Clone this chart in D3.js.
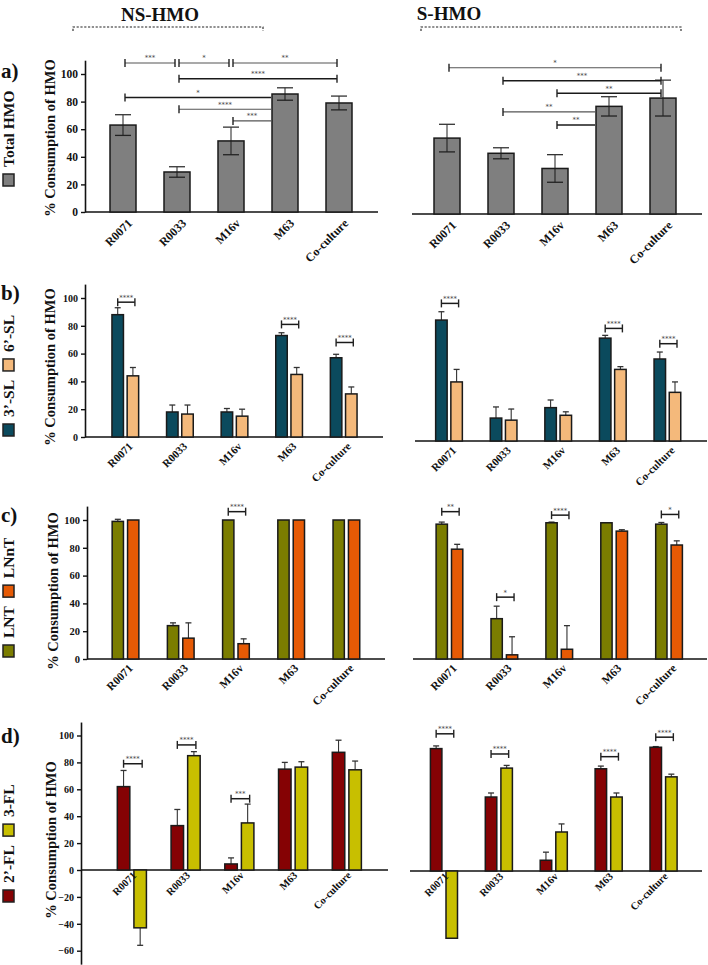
<!DOCTYPE html>
<html><head><meta charset="utf-8">
<script src="https://cdn.jsdelivr.net/npm/d3@7"></script>
<style>
body{margin:0;background:#fff}
svg{display:block}
text{font-family:"Liberation Serif","Times New Roman",serif;font-weight:bold;fill:#111}
</style>
</head><body>
<svg id="chart" width="708" height="965"></svg>
<script>
// ---------------- DATA ----------------
const categories = ["R0071", "R0033", "M16v", "M63", "Co-culture"];
const yTicksPos = [0, 20, 40, 60, 80, 100];
const yTicksD = [-60, -40, -20, 0, 20, 40, 60, 80, 100];

// a) Total HMO
const totalNS = [63, 29, 51.5, 85.5, 79];
const totalNSErr = [7.5, 3.8, 10, 4.5, 5];
const totalS = [55, 44, 33, 78, 84];
const totalSErr = [10, 4, 10, 7, 13];

// b) 3'-SL / 6'-SL
const sl3NS = [88, 18, 18, 73, 57];
const sl3NSErr = [5, 5, 2.5, 2, 2.5];
const sl6NS = [44, 16.5, 15, 45, 31];
const sl6NSErr = [6, 6.5, 5, 5, 5];
const sl3S = [87, 16.5, 24, 74, 59];
const sl3SErr = [6, 8, 5.5, 2, 5];
const sl6S = [42.5, 15, 18.5, 51.5, 35];
const sl6SErr = [9, 8, 2.5, 2, 7.5];

// c) LNT / LNnT
const lntNS = [99, 24, 100, 100, 100];
const lntNSErr = [1.5, 2, 0, 0, 0];
const lnntNS = [100, 15, 11, 100, 100];
const lnntNSErr = [0, 11, 3.5, 0, 0];
const lntS = [97, 29, 98, 98, 97];
const lntSErr = [1.5, 9, 0.5, 0, 1.2];
const lnntS = [79, 3, 7, 92, 82];
const lnntSErr = [3.5, 13, 17, 1, 3];

// d) 2'-FL / 3-FL
const fl2NS = [62, 33, 4.5, 75, 87.5];
const fl2NSErr = [12, 12, 4.5, 5, 9];
const fl3NS = [-43, 85, 35, 76.5, 74.5];
const fl3NSErr = [-13, 3, 14, 4, 6.5];
const fl2S = [91, 55, 8, 76, 92];
const fl2SErr = [2, 3, 6, 2, 0.5];
const fl3S = [-50, 76.5, 29, 55, 70];
const fl3SErr = [3.5, 2, 6, 3, 2];

// significance brackets (y in % units)
const sigA_NS = [
  {from: "R0071", to: "R0033", y: 108, label: "***"},
  {from: "R0033", to: "M16v", y: 108, label: "*"},
  {from: "M16v", to: "Co-culture", y: 108, label: "**"},
  {from: "R0033", to: "Co-culture", y: 96.5, label: "****", dark: true},
  {from: "R0071", to: "M63", y: 83, label: "*", open: true, dark: true},
  {from: "R0033", to: "M63", y: 74.5, label: "****", open: true},
  {from: "M16v", to: "M63", y: 66, label: "***", open: true}
];
const sigA_S = [
  {from: "R0071", to: "Co-culture", y: 106, label: "*"},
  {from: "R0033", to: "Co-culture", y: 96.5, label: "***", dark: true},
  {from: "M16v", to: "Co-culture", y: 87.5, label: "**", dark: true},
  {from: "R0033", to: "M63", y: 74, label: "**", open: true},
  {from: "M16v", to: "M63", y: 64.5, label: "**", open: true, dark: true}
];
const sigB_NS = [
  {cat: "R0071", y: 97, label: "****"},
  {cat: "M63", y: 81, label: "****"},
  {cat: "Co-culture", y: 68, label: "****"}
];
const sigB_S = [
  {cat: "R0071", y: 99, label: "****"},
  {cat: "M63", y: 81, label: "****"},
  {cat: "Co-culture", y: 70, label: "****"}
];
const sigC_NS = [
  {cat: "M16v", y: 106, label: "****"}
];
const sigC_S = [
  {cat: "R0071", y: 106, label: "**"},
  {cat: "R0033", y: 44.5, label: "*"},
  {cat: "M16v", y: 103.5, label: "****"},
  {cat: "Co-culture", y: 104, label: "*"}
];
const sigD_NS = [
  {cat: "R0071", y: 79, label: "****"},
  {cat: "R0033", y: 93, label: "****"},
  {cat: "M16v", y: 53, label: "***"}
];
const sigD_S = [
  {cat: "R0071", y: 102, label: "****"},
  {cat: "R0033", y: 87, label: "****"},
  {cat: "M63", y: 85, label: "****"},
  {cat: "Co-culture", y: 99.5, label: "****"}
];

const colors = {
  total: "#7f7f7f",
  sl3: "#0b4a5d", sl6: "#f4b97b",
  lnt: "#7b7d00", lnnt: "#e65a05",
  fl2: "#850204", fl3: "#c8bf00"
};

// ---------------- DRAWING ----------------
const svg = d3.select("#chart");

function panel(o) {
  const g = svg.append("g");
  const y = d3.scaleLinear()
    .domain([o.yMin, o.yMax])
    .range([o.base - o.yMin * o.k, o.base - o.yMax * o.k]);
  const x = d3.scaleBand().domain(categories).range(o.xRange);
  const cx = c => x(c) + x.bandwidth() / 2;
  const nS = o.series.length;

  g.append("line").attr("x1", o.axisLine[0]).attr("x2", o.axisLine[1])
    .attr("y1", y(0)).attr("y2", y(0)).attr("stroke", "#111").attr("stroke-width", 1.6);

  if (o.yAxisX != null) {
    const ax = g.append("g").attr("transform", `translate(${o.yAxisX},0)`)
      .call(d3.axisLeft(y).tickValues(o.ticks).tickSize(4).tickSizeOuter(0).tickPadding(3).tickFormat(d3.format("d")));
    ax.select(".domain").attr("stroke", "#111").attr("stroke-width", 1.6);
    ax.selectAll(".tick line").attr("stroke", "#111").attr("stroke-width", 1.4);
    ax.selectAll(".tick text").attr("font-size", o.tickFont).attr("fill", "#111").style("font-size", o.tickFont + "px");
    g.append("text").attr("transform", `translate(${o.titleX},${o.titleY}) rotate(-90)`)
      .attr("text-anchor", "middle").attr("font-size", 14.5).text("% Consumption of HMO");
  }

  o.series.forEach((s, si) => {
    const off = nS === 1 ? 0 : (si === 0 ? -o.off : o.off);
    categories.forEach((c, i) => {
      const v = s.values[i], e = s.errs[i];
      const bx = cx(c) + off;
      if (e !== 0) {
        g.append("line").attr("x1", bx).attr("x2", bx).attr("y1", y(v)).attr("y2", y(v + e))
          .attr("stroke", "#333").attr("stroke-width", 1.1);
        g.append("line").attr("x1", bx - o.cap).attr("x2", bx + o.cap).attr("y1", y(v + e)).attr("y2", y(v + e))
          .attr("stroke", "#333").attr("stroke-width", 1.3);
      }
      g.append("rect").attr("x", bx - o.barW / 2).attr("width", o.barW)
        .attr("y", Math.min(y(v), y(0))).attr("height", Math.abs(y(v) - y(0)))
        .attr("fill", s.color).attr("stroke", "#1a1a1a").attr("stroke-width", 1.5);
      if (o.twoSided && e !== 0) {
        g.append("line").attr("x1", bx).attr("x2", bx).attr("y1", y(v)).attr("y2", y(v - e))
          .attr("stroke", "#222").attr("stroke-width", 1.1);
        g.append("line").attr("x1", bx - o.cap).attr("x2", bx + o.cap).attr("y1", y(v - e)).attr("y2", y(v - e))
          .attr("stroke", "#222").attr("stroke-width", 1.3);
      }
    });
  });

  categories.forEach(c => {
    g.append("text")
      .attr("transform", `translate(${cx(c) + o.lblDx},${y(0) + o.lblDy}) rotate(-45)`)
      .attr("text-anchor", "end").attr("font-size", o.lblFont).text(c);
  });

  const drawBr = (x1, x2, yy, label, dark, capL, capR) => {
    const col = dark ? "#1a1a1a" : "#555";
    const sw = dark ? 1.5 : 1.1;
    const py = y(yy);
    g.append("line").attr("x1", x1).attr("x2", x2).attr("y1", py).attr("y2", py).attr("stroke", col).attr("stroke-width", sw);
    if (capL) g.append("line").attr("x1", x1).attr("x2", x1).attr("y1", py - 4).attr("y2", py + 4).attr("stroke", "#222").attr("stroke-width", 1.4);
    if (capR) g.append("line").attr("x1", x2).attr("x2", x2).attr("y1", py - 4).attr("y2", py + 4).attr("stroke", "#222").attr("stroke-width", 1.4);
    g.append("text").attr("x", (x1 + x2) / 2).attr("y", py - 2.5).attr("text-anchor", "middle")
      .style("font-family", "DejaVu Sans, sans-serif").style("font-weight", "normal")
      .attr("font-size", 7).style("fill", "#444").text(label);
  };
  (o.sigMulti || []).forEach(b => {
    const x1 = cx(b.from) + 2;
    const x2 = b.open ? cx(b.to) - o.barW / 2 - 1 : cx(b.to) - 2;
    drawBr(x1, x2, b.y, b.label, b.dark, true, !b.open);
  });
  (o.sigPair || []).forEach(b => {
    drawBr(cx(b.cat) - o.off, cx(b.cat) + o.off + 2, b.y, b.label, true, true, true);
  });
}

function legend(items, yBottom, label, labelY) {
  let yy = yBottom;
  items.forEach(it => {
    svg.append("rect").attr("x", 3).attr("y", yy - 12).attr("width", 11).attr("height", 12)
      .attr("fill", it.color).attr("stroke", "#222").attr("stroke-width", 1.5);
    yy -= 12 + 7;
    const t = svg.append("text").attr("transform", `translate(14,${yy}) rotate(-90)`)
      .attr("font-size", 15.5).attr("text-anchor", "start").text(it.text);
    yy -= t.node().getComputedTextLength() + 9;
  });
  svg.append("text").attr("x", 1).attr("y", labelY).attr("font-size", 21).text(label);
}

svg.append("text").attr("x", 160).attr("y", 21).attr("text-anchor", "middle").attr("font-size", 19).text("NS-HMO");
svg.append("text").attr("x", 449).attr("y", 20).attr("text-anchor", "middle").attr("font-size", 19).text("S-HMO");
[[73, 263, 27], [421, 681, 27]].forEach(([a, b, yy]) => {
  svg.append("path").attr("d", `M${a},${yy + 4}V${yy}H${b}V${yy + 4}`)
    .attr("fill", "none").attr("stroke", "#222").attr("stroke-width", 1.1).attr("stroke-dasharray", "2.2,1.6");
});

// a)
legend([{color: colors.total, text: "Total HMO"}], 186, "a)", 78);
panel({base: 212, k: 1.38, yMin: 0, yMax: 110, xRange: [96, 366], axisLine: [85, 378], yAxisX: 85, ticks: yTicksPos,
  titleX: 55, titleY: 138, tickFont: 11.5, lblFont: 12,
  series: [{values: totalNS, errs: totalNSErr, color: colors.total}], barW: 26, off: 0, cap: 8, twoSided: true,
  lblDx: 10, lblDy: 12, sigMulti: sigA_NS});
panel({base: 214, k: 1.38, yMin: 0, yMax: 110, xRange: [420, 690], axisLine: [412, 702], yAxisX: null, ticks: yTicksPos,
  tickFont: 11.5, lblFont: 12,
  series: [{values: totalS, errs: totalSErr, color: colors.total}], barW: 26, off: 0, cap: 8, twoSided: true,
  lblDx: 10, lblDy: 12, sigMulti: sigA_S});

// b)
legend([{color: colors.sl3, text: "3’-SL"}, {color: colors.sl6, text: "6’-SL"}], 436, "b)", 300);
panel({base: 437, k: 1.39, yMin: 0, yMax: 110, xRange: [98, 371], axisLine: [85, 383], yAxisX: 85, ticks: yTicksPos,
  titleX: 55, titleY: 367, tickFont: 10, lblFont: 11,
  series: [{values: sl3NS, errs: sl3NSErr, color: colors.sl3}, {values: sl6NS, errs: sl6NSErr, color: colors.sl6}],
  barW: 11.5, off: 7.6, cap: 3, twoSided: false, lblDx: 8, lblDy: 10, sigPair: sigB_NS});
panel({base: 441, k: 1.39, yMin: 0, yMax: 110, xRange: [421.7, 694.7], axisLine: [415, 707], yAxisX: null, ticks: yTicksPos,
  tickFont: 10, lblFont: 11,
  series: [{values: sl3S, errs: sl3SErr, color: colors.sl3}, {values: sl6S, errs: sl6SErr, color: colors.sl6}],
  barW: 11.5, off: 7.6, cap: 3, twoSided: false, lblDx: 8, lblDy: 10, sigPair: sigB_S});

// c)
legend([{color: colors.lnt, text: "LNT"}, {color: colors.lnnt, text: "LNnT"}], 657, "c)", 522);
panel({base: 659, k: 1.39, yMin: 0, yMax: 110, xRange: [97.9, 374], axisLine: [87, 385], yAxisX: 87, ticks: yTicksPos,
  titleX: 58, titleY: 591, tickFont: 10.5, lblFont: 11.5,
  series: [{values: lntNS, errs: lntNSErr, color: colors.lnt}, {values: lnntNS, errs: lnntNSErr, color: colors.lnnt}],
  barW: 11.3, off: 7.7, cap: 3, twoSided: false, lblDx: 8, lblDy: 10, sigPair: sigC_NS});
panel({base: 659, k: 1.39, yMin: 0, yMax: 110, xRange: [422, 696.5], axisLine: [413, 707], yAxisX: null, ticks: yTicksPos,
  tickFont: 10.5, lblFont: 11.5,
  series: [{values: lntS, errs: lntSErr, color: colors.lnt}, {values: lnntS, errs: lnntSErr, color: colors.lnnt}],
  barW: 11.3, off: 7.7, cap: 3, twoSided: false, lblDx: 8, lblDy: 10, sigPair: sigC_S});

// d)
legend([{color: colors.fl2, text: "2’-FL"}, {color: colors.fl3, text: "3-FL"}], 902, "d)", 743);
panel({base: 870, k: 1.345, yMin: -70, yMax: 110, xRange: [105, 373.7], axisLine: [81, 388], yAxisX: 81, ticks: yTicksD,
  titleX: 56, titleY: 840, tickFont: 10, lblFont: 10.5,
  series: [{values: fl2NS, errs: fl2NSErr, color: colors.fl2}, {values: fl3NS, errs: fl3NSErr, color: colors.fl3}],
  barW: 12.5, off: 8.3, cap: 3, twoSided: false, lblDx: 5, lblDy: 6, sigPair: sigD_NS});
panel({base: 871, k: 1.345, yMin: -70, yMax: 110, xRange: [416.5, 691], axisLine: [410, 702], yAxisX: null, ticks: yTicksD,
  tickFont: 10, lblFont: 10.5,
  series: [{values: fl2S, errs: fl2SErr, color: colors.fl2}, {values: fl3S, errs: fl3SErr, color: colors.fl3}],
  barW: 11.5, off: 7.8, cap: 3, twoSided: false, lblDx: 5, lblDy: 6, sigPair: sigD_S});
</script>
</body></html>
